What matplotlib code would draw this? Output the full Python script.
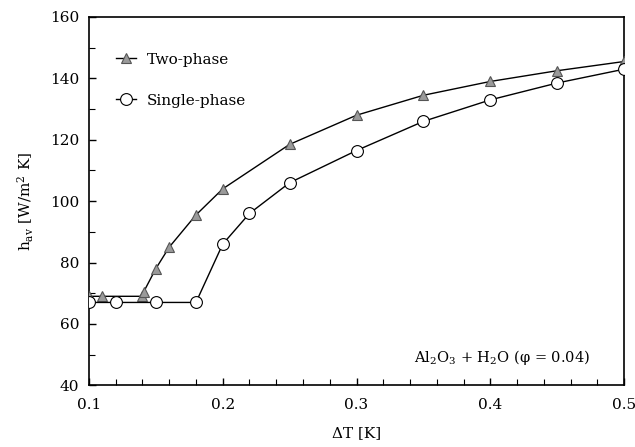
import numpy as np
import matplotlib
matplotlib.use("Agg")
import matplotlib.pyplot as plt
from matplotlib.ticker import MultipleLocator

plt.rcParams['font.family'] = ['DejaVu Serif']
plt.rcParams['mathtext.fontset'] = 'dejavuserif'

# two-phase model
dt_two = [0.10, 0.11, 0.14, 0.141, 0.15, 0.16, 0.18, 0.20, 0.25, 0.30, 0.35, 0.40, 0.45, 0.50]
h_two = [69.0, 69.0, 69.0, 70.5, 78.0, 85.0, 95.5, 104.0, 118.5, 128.0, 134.5, 139.0, 142.5, 145.5]

# single-phase model
dt_single = [0.10, 0.12, 0.15, 0.18, 0.20, 0.22, 0.25, 0.30, 0.35, 0.40, 0.45, 0.50]
h_single = [67.0, 67.0, 67.0, 67.0, 86.0, 96.0, 106.0, 116.5, 126.0, 133.0, 138.5, 143.0]

fig = plt.figure(figsize=(6.35, 4.47), dpi=100)
ax = fig.add_axes([0.140, 0.138, 0.843, 0.824])

ax.plot(dt_two, h_two, color='black', lw=1.0, marker='^', ms=7.5,
        mfc='#9a9a9a', mec='#555555', mew=0.8, label='Two-phase', zorder=3)
ax.plot(dt_single, h_single, color='black', lw=1.0, marker='o', ms=8.5,
        mfc='white', mec='black', mew=0.8, label='Single-phase', zorder=4)

ax.set_xlim(0.1, 0.5)
ax.set_ylim(40, 160)
ax.xaxis.set_major_locator(MultipleLocator(0.1))
ax.xaxis.set_minor_locator(MultipleLocator(0.02))
ax.yaxis.set_major_locator(MultipleLocator(20))
ax.yaxis.set_minor_locator(MultipleLocator(10))
ax.xaxis.set_major_formatter(plt.FuncFormatter(lambda v, p: f'{v:.1f}'))
ax.tick_params(axis='both', which='major', direction='in', length=5, width=1.0,
               labelsize=11, pad=7)
ax.tick_params(axis='both', which='minor', direction='in', length=4, width=0.8)
ax.tick_params(axis='x', which='major', pad=9)
for s in ax.spines.values():
    s.set_linewidth(1.2)

ax.set_xlabel(r'ΔT [K]', fontsize=11, labelpad=10)
ax.set_ylabel(r'h$_{\mathrm{av}}$ [W/m$^2$ K]', fontsize=11, labelpad=10)

ax.legend(loc='upper left', bbox_to_anchor=(0.025, 0.94), frameon=False,
          fontsize=11, handlelength=1.3, labelspacing=1.75, handletextpad=0.7)

ax.text(0.936, 0.075, r'Al$_2$O$_3$ + H$_2$O (φ = 0.04)', transform=ax.transAxes,
        ha='right', va='center', fontsize=10.5)

fig.savefig('out.png', dpi=100)
